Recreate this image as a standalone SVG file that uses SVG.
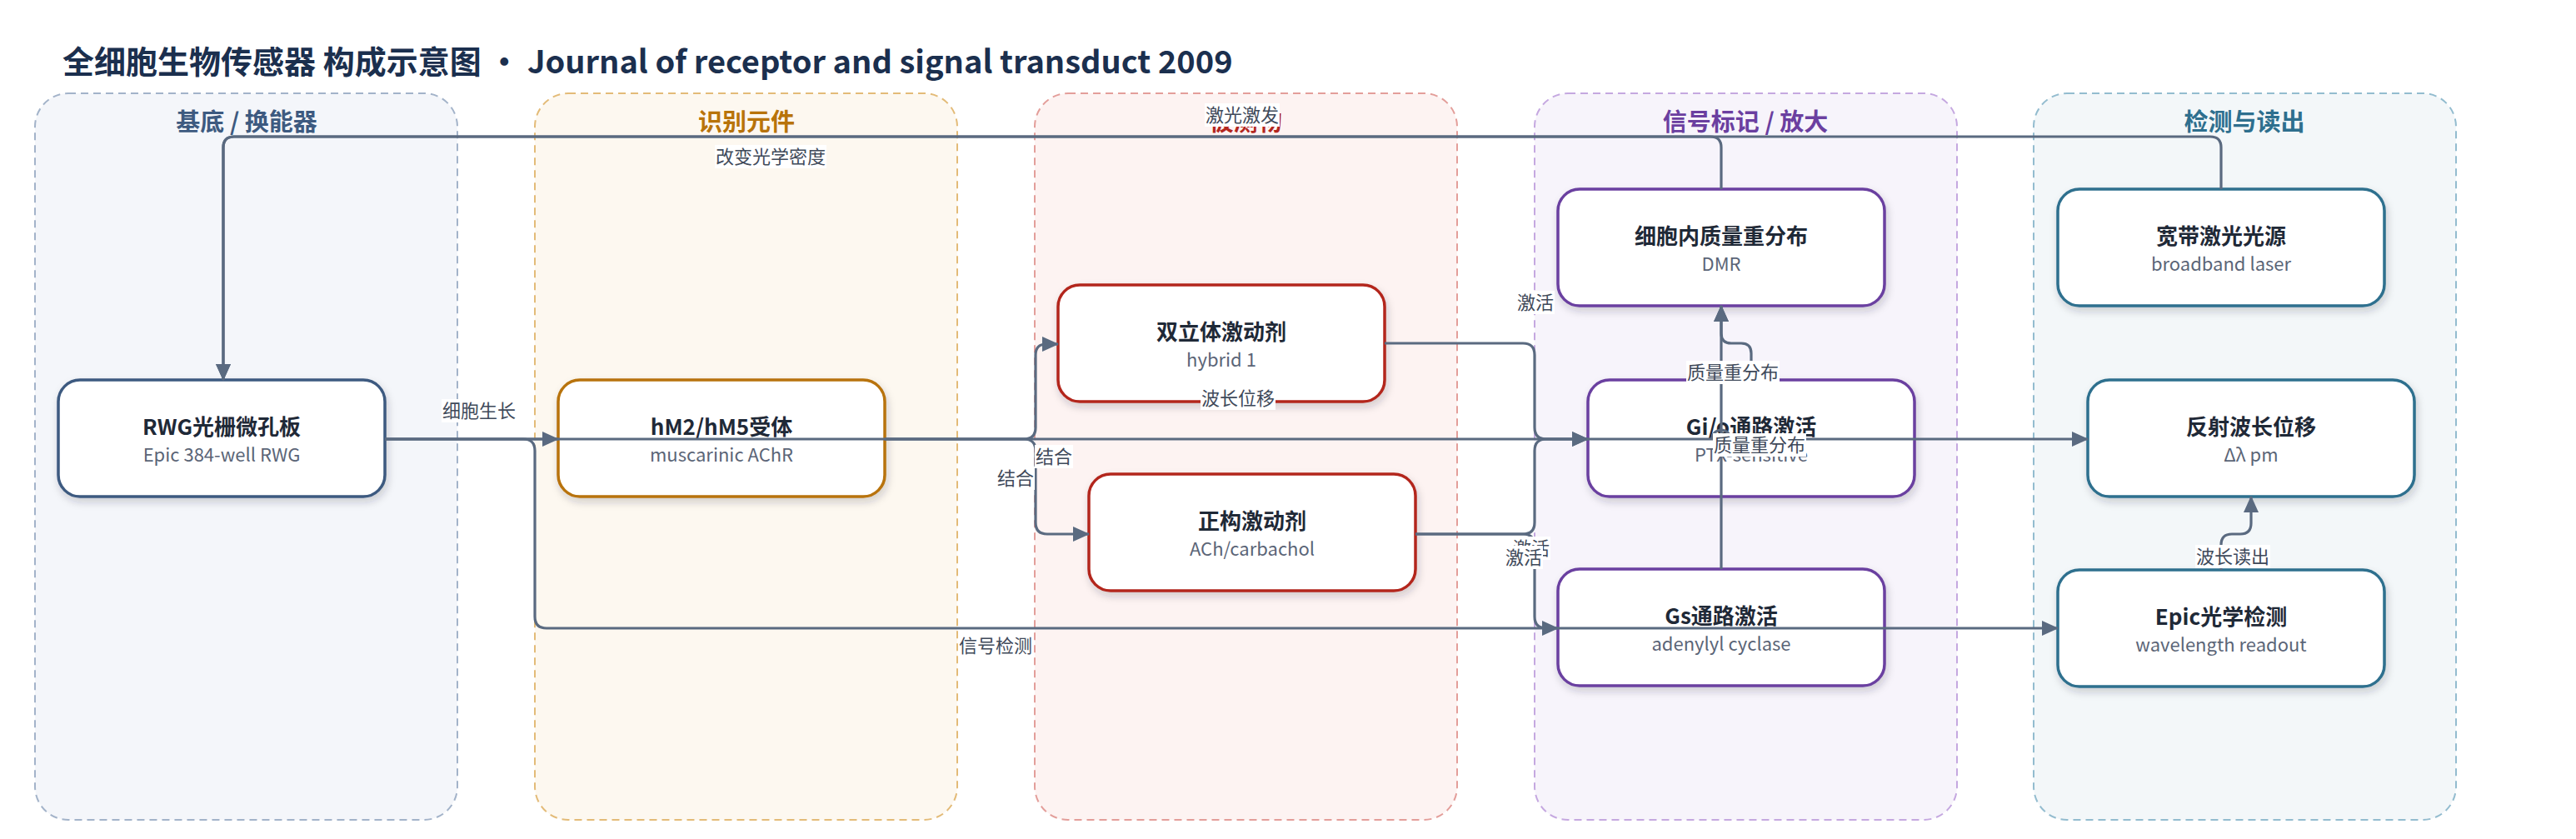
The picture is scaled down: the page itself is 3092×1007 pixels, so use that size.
<svg xmlns="http://www.w3.org/2000/svg" width="3092" height="1007" viewBox="0 0 3092 1007">
<defs>
<style>
text{font-family:"Noto Sans CJK SC","Noto Sans",sans-serif;}
.title{font-size:38px;font-weight:700;fill:#1b2f4e;}
.zone{stroke-width:2;stroke-dasharray:9 6;}
.ztitle{font-size:29px;font-weight:700;text-anchor:middle;}
.node rect{fill:#fff;stroke-width:3.5;filter:url(#sh);}
.nt{font-size:26px;font-weight:700;fill:#1f2937;text-anchor:middle;}
.ns{font-size:22px;fill:#5b6577;text-anchor:middle;}
.edge{fill:none;stroke:#5a6a80;stroke-width:3.2;}
.arr{marker-end:url(#ah);}
.lb rect{fill:#fff;}
.lb text{font-size:22px;fill:#3f4a5a;text-anchor:middle;}
</style>
<filter id="sh" x="-10%" y="-20%" width="130%" height="150%">
<feDropShadow dx="2" dy="5" stdDeviation="5" flood-color="#1e2a3a" flood-opacity="0.2"/>
</filter>
<marker id="ah" viewBox="0 0 20 18" refX="19" refY="9" markerWidth="20" markerHeight="18" markerUnits="userSpaceOnUse" orient="auto">
<path d="M0,0 L20,9 L0,18 Z" fill="#5a6a80"/>
</marker>
</defs>
<rect width="3092" height="1007" fill="#fff"/>
<text class="title" x="75" y="88">全细胞生物传感器 构成示意图 · Journal of receptor and signal transduct 2009</text>

<g id="zones">
<g id="zone-substrate"><rect class="zone" x="42" y="112" width="507" height="872" rx="40" fill="#f4f6fa" stroke="#a3b3c9"/><text class="ztitle" x="296" y="157" fill="#3d5a80">基底 / 换能器</text></g>
<g id="zone-recognition"><rect class="zone" x="642" y="112" width="507" height="872" rx="40" fill="#fdf8f0" stroke="#e3bb78"/><text class="ztitle" x="896" y="157" fill="#b8730a">识别元件</text></g>
<g id="zone-analyte"><rect class="zone" x="1242" y="112" width="507" height="872" rx="40" fill="#fdf3f2" stroke="#e39e9a"/><text class="ztitle" x="1495" y="157" fill="#b3261e">被测物</text></g>
<g id="zone-signal"><rect class="zone" x="1842" y="112" width="507" height="872" rx="40" fill="#f7f4fb" stroke="#c5a8e0"/><text class="ztitle" x="2095" y="157" fill="#6b3fa0">信号标记 / 放大</text></g>
<g id="zone-detect"><rect class="zone" x="2441" y="112" width="507" height="872" rx="40" fill="#f3f7f9" stroke="#93bccf"/><text class="ztitle" x="2694" y="157" fill="#2e6f8e">检测与读出</text></g>
</g>

<g id="nodes">
<g id="n-rwg" class="node"><rect x="70" y="456" width="392" height="140" rx="26" stroke="#3d5a80"/><text class="nt" x="266" y="522">RWG光栅微孔板</text><text class="ns" x="266" y="554">Epic 384-well RWG</text></g>
<g id="n-receptor" class="node"><rect x="670" y="456" width="392" height="140" rx="26" stroke="#b8730a"/><text class="nt" x="866" y="522">hM2/hM5受体</text><text class="ns" x="866" y="554">muscarinic AChR</text></g>
<g id="n-hybrid" class="node"><rect x="1270" y="342" width="392" height="140" rx="26" stroke="#b3261e"/><text class="nt" x="1466" y="408">双立体激动剂</text><text class="ns" x="1466" y="440">hybrid 1</text></g>
<g id="n-ortho" class="node"><rect x="1307" y="569" width="392" height="140" rx="26" stroke="#b3261e"/><text class="nt" x="1503" y="635">正构激动剂</text><text class="ns" x="1503" y="667">ACh/carbachol</text></g>
<g id="n-dmr" class="node"><rect x="1870" y="227" width="392" height="140" rx="26" stroke="#6b3fa0"/><text class="nt" x="2066" y="293">细胞内质量重分布</text><text class="ns" x="2066" y="325">DMR</text></g>
<g id="n-gio" class="node"><rect x="1906" y="456" width="392" height="140" rx="26" stroke="#6b3fa0"/><text class="nt" x="2102" y="522">Gi/o通路激活</text><text class="ns" x="2102" y="554">PTX-sensitive</text></g>
<g id="n-gs" class="node"><rect x="1870" y="683" width="392" height="140" rx="26" stroke="#6b3fa0"/><text class="nt" x="2066" y="749">Gs通路激活</text><text class="ns" x="2066" y="781">adenylyl cyclase</text></g>
<g id="n-laser" class="node"><rect x="2470" y="227" width="392" height="140" rx="26" stroke="#2e6f8e"/><text class="nt" x="2666" y="293">宽带激光光源</text><text class="ns" x="2666" y="325">broadband laser</text></g>
<g id="n-shift" class="node"><rect x="2506" y="456" width="392" height="140" rx="26" stroke="#2e6f8e"/><text class="nt" x="2702" y="522">反射波长位移</text><text class="ns" x="2702" y="554">Δλ pm</text></g>
<g id="n-epic" class="node"><rect x="2470" y="684" width="392" height="140" rx="26" stroke="#2e6f8e"/><text class="nt" x="2666" y="750">Epic光学检测</text><text class="ns" x="2666" y="782">wavelength readout</text></g>
</g>

<g id="connectors">
<path class="edge arr" d="M2666,227 V177 Q2666,164 2653,164 H281 Q268,164 268,177 V456"/>
<path class="edge arr" d="M2066,227 V177 Q2066,164 2053,164 H281 Q268,164 268,177 V456"/>
<path class="edge arr" d="M462,527 H670"/>
<path class="edge arr" d="M462,527 H2055 A11,11 0 0 1 2077,527 H2506"/>
<path class="edge arr" d="M462,527 H628 Q642,527 642,541 V740 Q642,754 656,754 H2470"/>
<path class="edge arr" d="M1062,527 H1229 Q1243,527 1243,513 V426 Q1243,413 1256,413 H1270"/>
<path class="edge arr" d="M1062,527 H1229 Q1243,527 1243,541 V627 Q1243,641 1257,641 H1307"/>
<path class="edge arr" d="M1662,412 H1828 Q1842,412 1842,426 V513 Q1842,527 1856,527 H1906"/>
<path class="edge arr" d="M1699,641 H1828 Q1842,641 1842,627 V541 Q1842,527 1856,527 H1906"/>
<path class="edge arr" d="M1699,641 H1828 Q1842,641 1842,655 V740 Q1842,754 1856,754 H1870"/>
<path class="edge arr" d="M2066,683 V367"/>
<path class="edge arr" d="M2102,456 V424 Q2102,412 2090,412 H2078 Q2066,412 2066,400 V367"/>
<path class="edge arr" d="M2666,684 V654 Q2666,641 2679,641 H2689 Q2702,641 2702,628 V596"/>
</g>

<g id="labels">
<g class="lb"><rect x="1446" y="124" width="90" height="28"/><text x="1491" y="146">激光激发</text></g>
<g class="lb"><rect x="858" y="174" width="134" height="28"/><text x="925" y="196">改变光学密度</text></g>
<g class="lb"><rect x="530" y="479" width="90" height="28"/><text x="575" y="501">细胞生长</text></g>
<g class="lb"><rect x="1441" y="464" width="90" height="28"/><text x="1486" y="486">波长位移</text></g>
<g class="lb"><rect x="1150" y="761" width="90" height="28"/><text x="1195" y="783">信号检测</text></g>
<g class="lb"><rect x="1242" y="534" width="46" height="28"/><text x="1265" y="556">结合</text></g>
<g class="lb"><rect x="1196" y="560" width="46" height="28"/><text x="1219" y="582">结合</text></g>
<g class="lb"><rect x="1820" y="349" width="46" height="28"/><text x="1843" y="371">激活</text></g>
<g class="lb"><rect x="1815" y="644" width="46" height="28"/><text x="1838" y="666">激活</text></g>
<g class="lb"><rect x="1806" y="655" width="46" height="28"/><text x="1829" y="677">激活</text></g>
<g class="lb"><rect x="2024" y="433" width="112" height="28"/><text x="2080" y="455">质量重分布</text></g>
<g class="lb"><rect x="2056" y="520" width="112" height="28"/><text x="2112" y="542">质量重分布</text></g>
<g class="lb"><rect x="2635" y="654" width="90" height="28"/><text x="2680" y="676">波长读出</text></g>
</g>
</svg>
